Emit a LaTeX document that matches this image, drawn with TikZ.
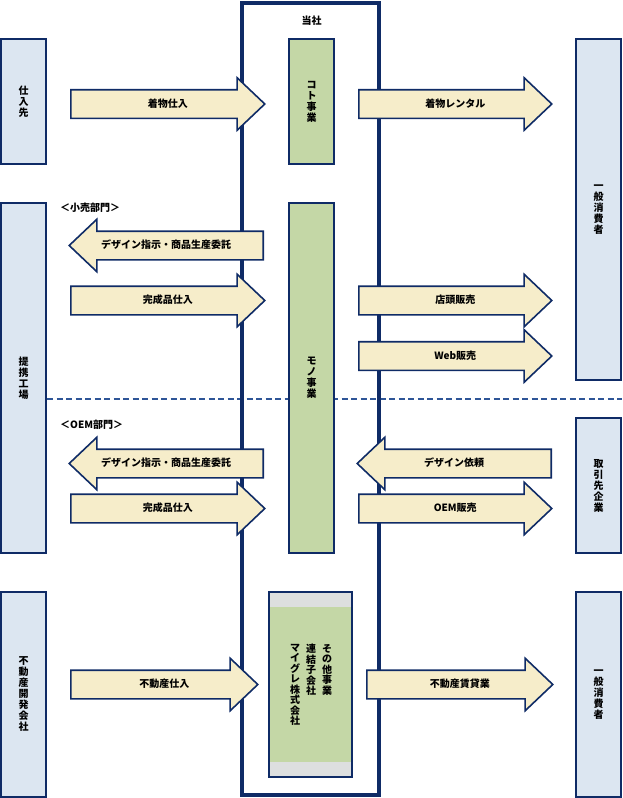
\documentclass[tikz,border=0pt]{standalone}
\usepackage{fontspec}
\setmainfont{Noto Sans CJK JP}
\usetikzlibrary{shapes.arrows}
\definecolor{navy}{HTML}{0F2B66}
\definecolor{paleblue}{HTML}{DCE6F1}
\definecolor{bizgreen}{HTML}{C4D7A6}
\definecolor{cream}{HTML}{F6EDCA}
\definecolor{bandgray}{HTML}{DDDFDF}
\definecolor{divblue}{HTML}{2E5597}
\newcommand{\vfont}{\fontsize{10}{11}\selectfont\bfseries}
\newcommand{\cfont}{\fontsize{10}{10.5}\selectfont\bfseries}
\newcommand{\lfont}{\fontsize{10}{12}\selectfont\bfseries}

\begin{document}
\begin{tikzpicture}[x=1pt, y=-1pt,
  side/.style={draw=navy, fill=paleblue, line width=1.8pt, minimum width=45pt, inner sep=0pt, align=center, font=\vfont},
  biz/.style={side, fill=bizgreen},
  frame/.style={draw=navy, line width=3.6pt, minimum width=137pt, minimum height=792pt, inner sep=0pt},
  plain/.style={inner sep=1pt, font=\lfont},
  vcol/.style={anchor=north, inner sep=0pt, align=center, font=\cfont},
  blockarrow/.style={single arrow, anchor=tail, draw=navy, fill=cream, line width=1.6pt, single arrow head extend=12pt, single arrow tip angle=87, single arrow head indent=0pt, inner ysep=9pt, inner xsep=2pt, text height=7.5pt, text depth=1.5pt, font=\lfont},
  arrowR/.style={blockarrow, execute at begin node=\hspace*{15pt}},
  arrowL/.style={blockarrow, shape border rotate=180, execute at end node=\hspace*{15pt}},
  divline/.style={draw=divblue, line width=1.6pt, dash pattern=on 6pt off 3.5pt}
]
\useasboundingbox (0,0) rectangle (622,798);
\coordinate (divL) at (47,399);
\coordinate (divR) at (622,399);
\draw[divline] (divL) -- (divR);

\node[frame] (tousha) at (310.5,399) {};
\node[plain] (toushalbl) at (311.5,21) {当社};

\node[side, minimum height=125pt] (shiire) at (23.5,101.5) {仕\\入\\先};
\node[side, minimum height=350pt] (teikei) at (23.5,378) {提\\携\\工\\場};
\node[side, minimum height=205pt] (kaihatsu) at (23.5,694.5) {不\\動\\産\\開\\発\\会\\社};
\node[side, minimum height=341pt] (ippanA) at (598.5,209.5) {一\\般\\消\\費\\者};
\node[side, minimum height=135pt] (torihiki) at (598.5,485.5) {取\\引\\先\\企\\業};
\node[side, minimum height=205pt] (ippanB) at (598.5,694.5) {一\\般\\消\\費\\者};
\node[biz, minimum height=125pt] (koto) at (311.5,101.5) {コ\\ト\\事\\業};
\node[biz, minimum height=350pt] (mono) at (311.5,378) {モ\\ノ\\事\\業};
\node[biz, line width=1.4pt, minimum width=83pt, minimum height=185pt,
  path picture={
    \fill[bandgray] (path picture bounding box.north west) rectangle ([yshift=-15pt]path picture bounding box.north east);
    \fill[bandgray] (path picture bounding box.south west) rectangle ([yshift=15pt]path picture bounding box.south east);
  }] (other) at (310.5,684.5) {};
\node[vcol] (sonota) at (327,644) {そ\\の\\他\\事\\業};
\node[vcol] (renketsu) at (311,644) {連\\結\\子\\会\\社};
\node[vcol] (maigure) at (295,644) {マ\\イ\\グ\\レ\\株\\式\\会\\社};

\node[plain, anchor=west] (kouri) at (59,208) {＜小売部門＞};
\node[plain, anchor=west] (oem) at (59,425) {＜OEM部門＞};

\node[arrowR, minimum height=194pt] (kimono) at (70,104) {着物仕入};
\node[arrowR, minimum height=193pt] (rental) at (358,104) {着物レンタル};
\node[arrowL, minimum height=194pt] (shijiA) at (264,245.5) {デザイン指示・商品生産委託};
\node[arrowR, minimum height=194pt] (kanseiA) at (70,300.5) {完成品仕入};
\node[arrowR, minimum height=193pt] (tento) at (358,300.5) {店頭販売};
\node[arrowR, minimum height=193pt] (web) at (358,356) {Web販売};
\node[arrowL, minimum height=194pt] (shijiB) at (264,463.5) {デザイン指示・商品生産委託};
\node[arrowR, minimum height=194pt] (kanseiB) at (70,508.5) {完成品仕入};
\node[arrowL, minimum height=194pt] (irai) at (552,463.5) {デザイン依頼};
\node[arrowR, minimum height=193pt] (oemsale) at (358,508.5) {OEM販売};
\node[arrowR, minimum height=187pt] (fshiire) at (70,684.5) {不動産仕入};
\node[arrowR, minimum height=186pt] (chintai) at (366,684.5) {不動産賃貸業};
\end{tikzpicture}
\end{document}
